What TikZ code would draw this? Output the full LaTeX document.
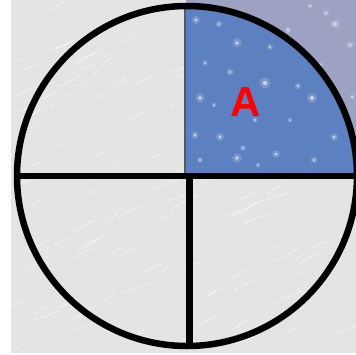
\documentclass[tikz,border=0pt]{standalone}
\usepackage{fontspec}
\newfontfamily\labelfont{Liberation Sans}
\definecolor{snow}{HTML}{E4E4E4}
\definecolor{lav}{HTML}{9EA2C2}
\definecolor{qblue}{HTML}{5D81C0}
\definecolor{ared}{HTML}{FF0000}
\tikzset{
  rim/.style={line width=6.5pt, draw=black},
  divider/.style={line width=6.5pt, draw=black},
  thinedge/.style={line width=1.5pt, draw=black!65},
  star/.style={fill=white, opacity=0.6},
  glow/.style={fill=white, opacity=0.18},
  streak/.style={draw=white, line width=0.6pt, opacity=0.6},
}
\begin{document}
\begin{tikzpicture}[x=1pt,y=-1pt]
\useasboundingbox (0,0) rectangle (356,354);
% snowy background
\fill[snow] (11,0) rectangle (356,353);
\pgfmathsetseed{11}
\foreach \i in {1,...,140}{
  \pgfmathsetmacro{\sx}{11+rnd*330}
  \pgfmathsetmacro{\sy}{5+rnd*345}
  \pgfmathsetmacro{\dx}{6+rnd*22}
  \pgfmathsetmacro{\dy}{-0.35*\dx-rnd*6}
  \pgfmathsetmacro{\wx}{(rnd-0.5)*6}
  \draw[streak] (\sx,\sy) -- (\sx+\dx*0.5+\wx,\sy+\dy*0.5-\wx) -- (\sx+\dx,\sy+\dy);
}
% top-right quadrant
\fill[lav] (186,0) rectangle (356,176);
\begin{scope}
  \clip (187,176) circle (170);
  \fill[qblue] (186,0) rectangle (356,176);
\end{scope}
% stars
\foreach \p/\r in {{(196,20)/1.6},{(219,24)/1.3},{(237,43)/1.8},{(270,47)/1.2},{(205,63)/1.1},{(265,83)/2.2},{(230,72)/1.4},{(200,98)/1.8},{(298,86)/1.3},{(312,98)/2},{(195,135)/1.5},{(220,137)/1.6},{(243,148)/1.2},{(276,154)/1.5},{(237,158)/1.9},{(314,160)/1.3},{(334,137)/1.5},{(200,160)/1.2},{(290,120)/1},{(255,120)/1.1},{(288,30)/1.3},{(326,13)/1.2},{(335,24)/1.8},{(350,45)/1.4},{(352,97)/1},{(310,6)/1},{(214,105)/1},{(320,65)/1.2},{(258,165)/1}}{
  \fill[glow] \p circle (\r*2.5);
  \fill[star] \p circle (\r);
}
% divisions
\draw[thinedge] (185,4) -- (185,176);
\draw[divider] (16,176) -- (358,176);
\draw[divider] (189.5,176) -- (189.5,347);
\draw[rim] (187,176) circle (170);
\node[font=\labelfont\bfseries\fontsize{42}{42}\selectfont, text=ared] (A) at (245.5,102) {A};
\end{tikzpicture}
\end{document}
